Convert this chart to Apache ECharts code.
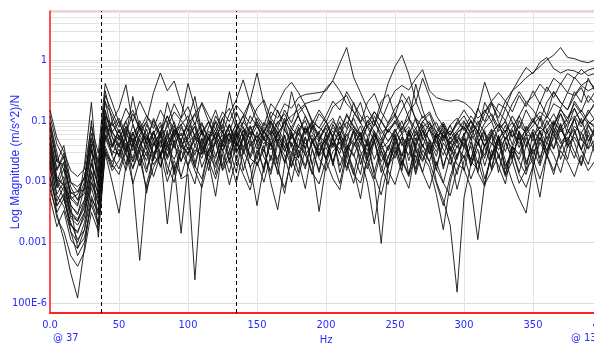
<!DOCTYPE html>
<html>
<head>
<meta charset="utf-8">
<script src="https://cdn.jsdelivr.net/npm/echarts@6/dist/echarts.min.js"></script>
<style>
html,body{margin:0;padding:0;background:#fff;}
#c{width:594px;height:347px;}
</style>
</head>
<body>
<div id="c"></div>
<script>
// Frequency grid (Hz)
const freqs = [0,5,10,15,20,25,30,35,40,45,50,55,60,65,70,75,80,85,90,95,100,105,110,115,120,125,130,135,140,145,150,155,160,165,170,175,180,185,190,195,200,205,210,215,220,225,230,235,240,245,250,255,260,265,270,275,280,285,290,295,300,305,310,315,320,325,330,335,340,345,350,355,360,365,370,375,380,385,390,395,400];

// Y-axis decade ticks and their labels
const yTickValues = [1e-4, 1e-3, 0.01, 0.1, 1];
const yTickLabels = ['100E-6', '0.001', '0.01', '0.1', '1'];
// Minor log grid values
const yMinorGrid = [7e-5,8e-5,9e-5,2e-4,3e-4,4e-4,5e-4,6e-4,7e-4,8e-4,9e-4,2e-3,3e-3,4e-3,5e-3,6e-3,7e-3,8e-3,9e-3,0.02,0.03,0.04,0.05,0.06,0.07,0.08,0.09,0.2,0.3,0.4,0.5,0.6,0.7,0.8,0.9,2,3,4,5,6];
// Cursor positions (Hz)
const cursors = [37, 135];

// Magnitude traces (m/s^2)/N, one value per frequency
const tr01 = [0.052,0.011,0.0085,0.0052,0.0061,0.012,0.047,0.019,0.21,0.063, 0.048,0.097,0.041,0.078,0.033,0.062,0.094,0.043,0.071,0.056, 0.083,0.039,0.064,0.098,0.051,0.088,0.042,0.069,0.12,0.058, 0.096,0.061,0.14,0.11,0.19,0.16,0.24,0.27,0.28,0.29, 0.31,0.46,0.88,1.6,0.52,0.29,0.16,0.096,0.061,0.083, 0.12,0.28,0.19,0.11,0.078,0.097,0.054,0.072,0.043,0.064, 0.081,0.052,0.098,0.063,0.041,0.074,0.096,0.053,0.082,0.064, 0.099,0.073,0.12,0.084,0.15,0.11,0.19,0.13,0.087,0.11, 0.12];
const tr02 = [0.021,0.0062,0.0098,0.0031,0.0022,0.0048,0.023,0.0079,0.097,0.038, 0.058,0.031,0.052,0.022,0.039,0.068,0.029,0.053,0.096,0.041, 0.049,0.081,0.028,0.054,0.094,0.037,0.063,0.031,0.048,0.079, 0.043,0.069,0.098,0.061,0.095,0.12,0.15,0.19,0.21,0.22, 0.34,0.45,0.31,0.19,0.14,0.098,0.12,0.082,0.16,0.41, 0.78,1.2,0.58,0.21,0.11,0.14,0.079,0.052,0.068,0.042, 0.059,0.098,0.066,0.038,0.061,0.088,0.049,0.077,0.12,0.068, 0.097,0.14,0.11,0.19,0.16,0.29,0.26,0.38,0.31,0.36, 0.41];
const tr03 = [0.029,0.0083,0.016,0.0041,0.0028,0.0082,0.038,0.011,0.14,0.054, 0.037,0.072,0.032,0.058,0.097,0.049,0.083,0.037,0.062,0.088, 0.042,0.059,0.094,0.048,0.073,0.041,0.081,0.047,0.096,0.066, 0.053,0.078,0.058,0.097,0.068,0.051,0.087,0.064,0.099,0.077, 0.062,0.097,0.071,0.12,0.083,0.058,0.094,0.14,0.098,0.19, 0.31,0.38,0.32,0.49,0.69,0.31,0.24,0.22,0.21,0.22, 0.2,0.16,0.11,0.14,0.21,0.29,0.21,0.31,0.39,0.51, 0.62,0.78,1.0,1.2,1.6,1.1,1.05,0.95,0.9,1.0, 1.0];
const tr04 = [0.011,0.0039,0.0063,0.0019,0.0014,0.0031,0.0096,0.0052,0.057,0.031, 0.028,0.051,0.021,0.038,0.059,0.029,0.048,0.023,0.042,0.063, 0.033,0.047,0.072,0.031,0.043,0.058,0.027,0.053,0.079,0.038, 0.057,0.041,0.068,0.048,0.032,0.059,0.037,0.081,0.047,0.028, 0.052,0.077,0.058,0.096,0.069,0.048,0.083,0.059,0.039,0.072, 0.094,0.061,0.079,0.047,0.098,0.069,0.052,0.077,0.058,0.093, 0.074,0.12,0.084,0.15,0.097,0.19,0.16,0.31,0.49,0.75, 0.59,0.91,1.1,0.72,0.61,0.69,0.66,0.58,0.68,0.74, 0.79];
const tr05 = [0.078,0.021,0.019,0.0063,0.0068,0.0072,0.032,0.014,0.31,0.098, 0.052,0.079,0.043,0.068,0.097,0.29,0.61,0.31,0.45,0.19, 0.094,0.057,0.042,0.067,0.049,0.032,0.063,0.038,0.068,0.051, 0.082,0.049,0.039,0.062,0.031,0.053,0.071,0.041,0.058,0.033, 0.049,0.068,0.042,0.058,0.079,0.053,0.032,0.061,0.043,0.072, 0.051,0.077,0.062,0.039,0.068,0.049,0.031,0.058,0.041,0.063, 0.077,0.048,0.069,0.039,0.058,0.033,0.051,0.068,0.042,0.059, 0.053,0.079,0.061,0.096,0.072,0.048,0.081,0.063,0.097,0.082, 0.071];
const tr06 = [0.041,0.0096,0.0051,0.0021,0.0011,0.0016,0.0096,0.0041,0.081,0.026, 0.016,0.036,0.021,0.051,0.016,0.041,0.061,0.026,0.056,0.11, 0.41,0.16,0.066,0.021,0.046,0.016,0.031,0.071,0.091,0.21, 0.61,0.19,0.076,0.041,0.021,0.066,0.031,0.016,0.051,0.026, 0.036,0.021,0.056,0.026,0.066,0.031,0.016,0.046,0.021,0.036, 0.061,0.026,0.051,0.016,0.041,0.021,0.056,0.016,0.046,0.026, 0.051,0.021,0.016,0.041,0.026,0.056,0.016,0.036,0.066,0.021, 0.036,0.066,0.031,0.051,0.086,0.036,0.061,0.11,0.046,0.076, 0.061];
const tr07 = [0.017,0.0047,0.0082,0.0027,0.0022,0.0037,0.014,0.0062,0.11,0.042, 0.027,0.062,0.037,0.082,0.042,0.022,0.067,0.032,0.072,0.047, 0.027,0.052,0.087,0.047,0.1,0.062,0.13,0.22,0.47,0.19, 0.092,0.062,0.11,0.19,0.32,0.43,0.29,0.18,0.092,0.057, 0.042,0.087,0.052,0.032,0.072,0.042,0.082,0.1,0.052,0.032, 0.072,0.042,0.027,0.067,0.037,0.077,0.042,0.087,0.032,0.062, 0.037,0.077,0.042,0.027,0.062,0.087,0.047,0.022,0.067,0.037, 0.072,0.047,0.1,0.062,0.13,0.077,0.16,0.092,0.13,0.2, 0.16];
const tr08 = [0.0053,0.0018,0.0033,0.0011,0.00078,0.0016,0.0058,0.0028,0.048,0.098, 0.16,0.39,0.088,0.038,0.073,0.023,0.058,0.013,0.048,0.011, 0.013,0.00024,0.0093,0.033,0.063,0.018,0.048,0.073,0.028,0.053, 0.023,0.068,0.043,0.013,0.058,0.023,0.078,0.033,0.083,0.028, 0.063,0.018,0.058,0.038,0.013,0.043,0.028,0.068,0.033,0.018, 0.053,0.023,0.013,0.043,0.078,0.028,0.063,0.018,0.038,0.023, 0.063,0.018,0.043,0.068,0.023,0.058,0.013,0.038,0.028,0.063, 0.023,0.068,0.043,0.093,0.048,0.023,0.068,0.033,0.083,0.053, 0.058];
const tr09 = [0.019,0.0029,0.0011,0.00031,0.00012,0.00084,0.0049,0.0021,0.034,0.017, 0.044,0.019,0.064,0.029,0.014,0.044,0.024,0.069,0.014,0.039, 0.029,0.059,0.017,0.034,0.024,0.069,0.034,0.014,0.059,0.024, 0.044,0.014,0.064,0.019,0.074,0.039,0.014,0.054,0.019,0.049, 0.024,0.059,0.014,0.034,0.069,0.019,0.049,0.014,0.039,0.024, 0.059,0.019,0.069,0.034,0.014,0.039,0.0099,0.0049,0.0019,0.00015, 0.0054,0.019,0.044,0.024,0.059,0.014,0.044,0.024,0.064,0.019, 0.039,0.069,0.024,0.059,0.034,0.074,0.044,0.019,0.069,0.034, 0.054];
const tr10 = [0.095,0.03,0.0095,0.004,0.003,0.005,0.02,0.0085,0.15,0.055, 0.025,0.055,0.0095,0.0005,0.009,0.025,0.065,0.025,0.07,0.035, 0.075,0.02,0.05,0.015,0.05,0.07,0.02,0.065,0.015,0.04, 0.055,0.025,0.015,0.05,0.02,0.065,0.025,0.075,0.035,0.015, 0.05,0.02,0.055,0.015,0.045,0.025,0.0095,0.002,0.011,0.025, 0.045,0.015,0.065,0.02,0.07,0.035,0.015,0.055,0.025,0.05, 0.015,0.045,0.02,0.065,0.015,0.05,0.07,0.025,0.055,0.015, 0.065,0.02,0.07,0.035,0.09,0.04,0.11,0.05,0.035,0.085, 0.08];
const tr11 = [0.012,0.0041,0.0059,0.0015,0.00098,0.0021,0.0079,0.0031,0.059,0.036, 0.071,0.031,0.086,0.046,0.026,0.066,0.036,0.091,0.041,0.021, 0.056,0.081,0.031,0.061,0.026,0.051,0.086,0.036,0.071,0.026, 0.066,0.031,0.096,0.041,0.11,0.056,0.036,0.076,0.046,0.026, 0.061,0.036,0.081,0.041,0.026,0.051,0.019,0.0098,0.00095,0.017, 0.051,0.026,0.071,0.036,0.086,0.046,0.026,0.066,0.036,0.019, 0.016,0.0079,0.0011,0.0096,0.026,0.056,0.031,0.071,0.036,0.081, 0.046,0.11,0.051,0.086,0.13,0.061,0.11,0.15,0.096,0.076, 0.1];
const tr12 = [0.031,0.0098,0.021,0.0052,0.0039,0.019,0.2,0.0098,0.052,0.027, 0.052,0.027,0.017,0.037,0.022,0.052,0.017,0.042,0.062,0.022, 0.037,0.017,0.052,0.027,0.017,0.047,0.062,0.022,0.057,0.017, 0.027,0.057,0.022,0.067,0.037,0.017,0.052,0.027,0.042,0.067, 0.022,0.052,0.027,0.017,0.037,0.062,0.022,0.057,0.027,0.017, 0.042,0.062,0.022,0.052,0.027,0.017,0.0061,0.0016,0.0097,0.027, 0.052,0.022,0.067,0.037,0.017,0.052,0.022,0.0098,0.0052,0.003, 0.017,0.052,0.027,0.077,0.042,0.062,0.11,0.047,0.087,0.057, 0.047];
const tr13 = [0.058,0.016,0.029,0.0081,0.0049,0.0098,0.041,0.0012,0.029,0.0098, 0.003,0.018,0.043,0.018,0.053,0.028,0.018,0.038,0.023,0.048, 0.018,0.033,0.028,0.053,0.013,0.043,0.023,0.068,0.033,0.018, 0.004,0.018,0.043,0.023,0.058,0.018,0.038,0.028,0.013,0.043, 0.023,0.053,0.018,0.038,0.028,0.013,0.053,0.023,0.043,0.018, 0.028,0.053,0.013,0.038,0.023,0.048,0.018,0.043,0.028,0.013, 0.038,0.023,0.053,0.018,0.043,0.028,0.013,0.038,0.023,0.053, 0.028,0.053,0.033,0.068,0.023,0.048,0.073,0.033,0.058,0.028, 0.038];
const tr14 = [0.022,0.0058,0.0039,0.0015,0.0006,0.001,0.0052,0.0032,0.079,0.064, 0.099,0.049,0.024,0.059,0.034,0.019,0.029,0.002,0.019,0.0014, 0.019,0.039,0.024,0.054,0.019,0.044,0.064,0.029,0.054,0.024, 0.019,0.039,0.0094,0.0034,0.019,0.044,0.024,0.054,0.019,0.0032, 0.019,0.044,0.029,0.059,0.039,0.064,0.024,0.049,0.014,0.039, 0.024,0.054,0.039,0.014,0.054,0.029,0.064,0.034,0.019,0.039, 0.024,0.054,0.014,0.039,0.069,0.024,0.054,0.034,0.014,0.039, 0.064,0.024,0.054,0.034,0.074,0.044,0.024,0.064,0.034,0.049, 0.074];
const tr15 = [0.092,0.024,0.016,0.0068,0.0051,0.0062,0.033,0.012,0.12,0.082, 0.11,0.061,0.13,0.073,0.049,0.1,0.057,0.12,0.069,0.048, 0.087,0.13,0.058,0.095,0.046,0.11,0.065,0.14,0.077,0.052, 0.11,0.067,0.047,0.092,0.13,0.074,0.058,0.12,0.063,0.046, 0.083,0.11,0.057,0.13,0.078,0.054,0.1,0.066,0.047,0.092, 0.13,0.076,0.11,0.056,0.097,0.13,0.062,0.047,0.085,0.11, 0.068,0.1,0.053,0.091,0.13,0.077,0.16,0.095,0.063,0.045, 0.019,0.0055,0.028,0.083,0.16,0.094,0.21,0.14,0.26,0.19, 0.31];
const tr16 = [0.0072,0.0031,0.0052,0.0019,0.0015,0.0026,0.012,0.0042,0.038,0.019, 0.013,0.032,0.0091,0.023,0.0076,0.017,0.029,0.0099,0.022,0.012, 0.031,0.015,0.0078,0.022,0.011,0.028,0.0088,0.024,0.013,0.0072, 0.021,0.0097,0.027,0.015,0.0079,0.023,0.012,0.033,0.014,0.0091, 0.022,0.011,0.0073,0.027,0.013,0.0094,0.024,0.011,0.032,0.015, 0.0089,0.022,0.012,0.027,0.014,0.0076,0.021,0.0095,0.0058,0.016, 0.027,0.011,0.022,0.0089,0.015,0.027,0.012,0.022,0.0093,0.016, 0.023,0.011,0.028,0.015,0.032,0.021,0.012,0.027,0.015,0.022, 0.026];
const tr17 = [0.12,0.041,0.024,0.0097,0.0082,0.011,0.062,0.021,0.26,0.14, 0.078,0.16,0.095,0.21,0.12,0.074,0.15,0.091,0.19,0.11, 0.17,0.085,0.2,0.12,0.072,0.14,0.096,0.18,0.13,0.089, 0.16,0.22,0.11,0.077,0.15,0.092,0.19,0.12,0.071,0.13, 0.094,0.17,0.21,0.26,0.14,0.09,0.2,0.28,0.14,0.091, 0.16,0.22,0.11,0.073,0.12,0.089,0.066,0.095,0.057,0.087, 0.12,0.074,0.16,0.096,0.19,0.11,0.21,0.14,0.26,0.17, 0.31,0.19,0.36,0.24,0.41,0.29,0.52,0.38,0.46,0.34, 0.41];
const tr18 = [0.043,0.012,0.0088,0.0031,0.0024,0.0041,0.019,0.0092,0.088,0.039, 0.071,0.036,0.065,0.031,0.087,0.048,0.028,0.061,0.035,0.078, 0.045,0.027,0.069,0.039,0.062,0.032,0.053,0.089,0.036,0.066, 0.034,0.068,0.038,0.077,0.044,0.029,0.063,0.035,0.084,0.049, 0.076,0.039,0.067,0.032,0.049,0.082,0.038,0.061,0.034,0.045, 0.072,0.039,0.058,0.11,0.049,0.071,0.036,0.067,0.031,0.055, 0.038,0.062,0.083,0.046,0.073,0.039,0.066,0.094,0.048,0.071, 0.11,0.064,0.083,0.13,0.075,0.11,0.16,0.089,0.13,0.19, 0.15];
const tr19 = [0.025,0.0078,0.012,0.0039,0.0008,0.0012,0.0041,0.0019,0.031,0.015, 0.022,0.043,0.016,0.033,0.0064,0.026,0.045,0.018,0.0096,0.032, 0.018,0.0091,0.038,0.021,0.0057,0.034,0.014,0.044,0.023,0.0094, 0.033,0.016,0.046,0.018,0.0063,0.029,0.022,0.0076,0.034,0.014, 0.044,0.021,0.0092,0.032,0.016,0.0052,0.027,0.045,0.018,0.0089, 0.033,0.014,0.0077,0.034,0.021,0.043,0.016,0.0094,0.026,0.0074, 0.022,0.038,0.014,0.0083,0.033,0.018,0.0091,0.037,0.021,0.013, 0.034,0.018,0.044,0.027,0.014,0.038,0.054,0.033,0.019,0.045, 0.032];
const tr20 = [0.15,0.052,0.031,0.015,0.012,0.016,0.081,0.029,0.41,0.2, 0.093,0.054,0.25,0.076,0.044,0.11,0.059,0.2,0.085,0.046, 0.099,0.25,0.064,0.049,0.12,0.074,0.3,0.091,0.056,0.083, 0.045,0.094,0.063,0.15,0.073,0.3,0.12,0.063,0.092,0.051, 0.084,0.055,0.12,0.074,0.2,0.093,0.054,0.086,0.21,0.27, 0.12,0.063,0.094,0.4,0.15,0.074,0.094,0.053,0.084,0.045, 0.093,0.063,0.15,0.43,0.2,0.094,0.064,0.12,0.074,0.15, 0.093,0.2,0.12,0.3,0.2,0.15,0.25,0.35,0.2,0.3, 0.25];
const tr21 = [0.052,0.015,0.026,0.0058,0.0042,0.0083,0.1,0.0052,0.12,0.068, 0.036,0.081,0.046,0.1,0.055,0.039,0.066,0.12,0.054,0.085, 0.12,0.053,0.037,0.079,0.15,0.065,0.046,0.092,0.055,0.12, 0.081,0.047,0.1,0.053,0.036,0.078,0.12,0.059,0.091,0.15, 0.1,0.054,0.096,0.045,0.12,0.2,0.079,0.046,0.1,0.065, 0.092,0.15,0.25,0.1,0.055,0.091,0.045,0.027,0.054,0.036, 0.055,0.1,0.065,0.2,0.12,0.066,0.1,0.054,0.12,0.2, 0.15,0.1,0.2,0.3,0.2,0.15,0.3,0.2,0.5,0.3, 0.35];
const tr22 = [0.0092,0.0025,0.0015,0.0006,0.0004,0.0007,0.0031,0.0015,0.029,0.021, 0.034,0.015,0.041,0.018,0.031,0.012,0.027,0.044,0.013,0.033, 0.042,0.018,0.011,0.034,0.045,0.015,0.024,0.0093,0.031,0.047, 0.018,0.034,0.013,0.041,0.027,0.0097,0.033,0.018,0.046,0.024, 0.015,0.031,0.044,0.021,0.0093,0.027,0.041,0.013,0.006,0.018, 0.037,0.018,0.045,0.013,0.033,0.021,0.0092,0.004,0.012,0.027, 0.044,0.018,0.034,0.011,0.027,0.045,0.018,0.031,0.013,0.008, 0.018,0.044,0.027,0.013,0.037,0.054,0.031,0.018,0.045,0.063, 0.052];
const tr23 = [0.035,0.0098,0.0071,0.0025,0.0019,0.0031,0.015,0.0059,0.072,0.091, 0.055,0.032,0.06,0.089,0.041,0.064,0.025,0.051,0.083,0.037, 0.059,0.093,0.038,0.026,0.065,0.046,0.088,0.041,0.032,0.075, 0.087,0.05,0.033,0.059,0.094,0.037,0.07,0.1,0.045,0.064, 0.098,0.049,0.033,0.069,0.11,0.058,0.041,0.12,0.07,0.046, 0.065,0.099,0.046,0.075,0.037,0.03,0.06,0.088,0.05,0.069, 0.1,0.059,0.041,0.075,0.098,0.046,0.084,0.04,0.1,0.06, 0.083,0.12,0.07,0.1,0.065,0.089,0.12,0.079,0.15,0.1, 0.12];
const tr24 = [0.071,0.021,0.039,0.0097,0.0068,0.012,0.052,0.015,0.2,0.12, 0.063,0.098,0.15,0.071,0.12,0.086,0.053,0.079,0.14,0.1, 0.069,0.13,0.19,0.095,0.062,0.11,0.16,0.076,0.12,0.21, 0.12,0.081,0.19,0.14,0.097,0.066,0.13,0.18,0.1,0.075, 0.12,0.21,0.15,0.3,0.19,0.12,0.08,0.14,0.097,0.063, 0.1,0.07,0.14,0.2,0.5,0.25,0.12,0.081,0.058,0.097, 0.15,0.099,0.067,0.13,0.2,0.14,0.1,0.19,0.3,0.2, 0.25,0.4,0.3,0.5,0.4,0.6,0.5,0.7,0.55,0.6, 0.65];

const traces = [tr01,tr02,tr03,tr04,tr05,tr06,tr07,tr08,tr09,tr10,tr11,tr12,tr13,tr14,tr15,tr16,tr17,tr18,tr19,tr20,tr21,tr22,tr23,tr24];

const BLUE = '#2a2aff';
const NARROW = '"Liberation Sans Narrow", "Arial Narrow", "DejaVu Sans Condensed", sans-serif';

const chart = echarts.init(document.getElementById('c'), null, {renderer: 'canvas'});

const series = [{
  type: 'line', data: [], z: 0, silent: true,
  markLine: {
    z: 0, silent: true, symbol: ['none','none'], animation: false,
    label: {show: false},
    lineStyle: {color: '#e3e3e3', type: 'solid', width: 1},
    data: yMinorGrid.map(v => ({yAxis: v}))
  }
}];
traces.forEach((t, k) => {
  series.push({
    type: 'line', name: 'FRF ' + (k + 1), z: 3,
    data: freqs.map((f, i) => [f, t[i]]),
    showSymbol: false, symbol: 'none',
    lineStyle: {color: '#111', width: 0.9},
    emphasis: {disabled: true},
    animation: false
  });
});
series.push({
  type: 'line', data: [], z: 6, silent: true,
  markLine: {
    z: 6, silent: true, symbol: ['none','none'], animation: false,
    label: {show: false},
    lineStyle: {color: '#000', type: [4, 3], width: 1},
    data: cursors.map(v => ({xAxis: v}))
  }
});

chart.setOption({
  animation: false,
  backgroundColor: '#fff',
  grid: {left: 50, right: -8, top: 11, bottom: 34, containLabel: false, outerBoundsMode: 'none',
    show: true, borderColor: '#ff9a9a', borderWidth: 1, backgroundColor: 'transparent'},
  xAxis: {
    type: 'value', min: 0, max: 400, interval: 50,
    name: 'Hz', nameLocation: 'middle', nameGap: 22, nameMoveOverlap: false,
    nameTextStyle: {color: BLUE, fontFamily: NARROW, fontSize: 11},
    axisLine: {show: true, onZero: false, lineStyle: {color: '#ff2020', width: 2}},
    axisTick: {show: false},
    axisLabel: {color: BLUE, fontFamily: NARROW, fontSize: 11, margin: 7, showMaxLabel: true, hideOverlap: false,
      formatter: v => v === 0 ? '0.0' : String(v)},
    splitLine: {show: true, lineStyle: {color: '#e3e3e3', width: 1}}
  },
  yAxis: {
    type: 'log', logBase: 10, min: 6.8e-5, max: 6.4,
    name: 'Log Magnitude (m/s^2)/N', nameLocation: 'middle', nameGap: 28, nameRotate: 90, nameMoveOverlap: false,
    nameTextStyle: {color: BLUE, fontFamily: 'Liberation Sans, Arial, sans-serif', fontSize: 12},
    axisLine: {show: true, lineStyle: {color: '#ff2020', width: 1.5}},
    axisTick: {show: false},
    axisLabel: {color: BLUE, fontFamily: NARROW, fontSize: 11, margin: 3, showMinLabel: false, showMaxLabel: false,
      formatter: function (v) {
        const e = Math.log10(v);
        for (let i = 0; i < yTickValues.length; i++) {
          if (Math.abs(Math.log10(yTickValues[i]) - e) < 0.01) return yTickLabels[i];
        }
        return '';
      }},
    splitLine: {show: true, lineStyle: {color: '#dcdcdc', width: 1}}
  },
  graphic: [
    {type: 'text', left: 53, top: 333, style: {text: '@ 37', fill: BLUE, font: '11px ' + NARROW}},
    {type: 'text', left: 571, top: 333, style: {text: '@ 135', fill: BLUE, font: '11px ' + NARROW}}
  ],
  series: series
});
</script>
</body>
</html>
